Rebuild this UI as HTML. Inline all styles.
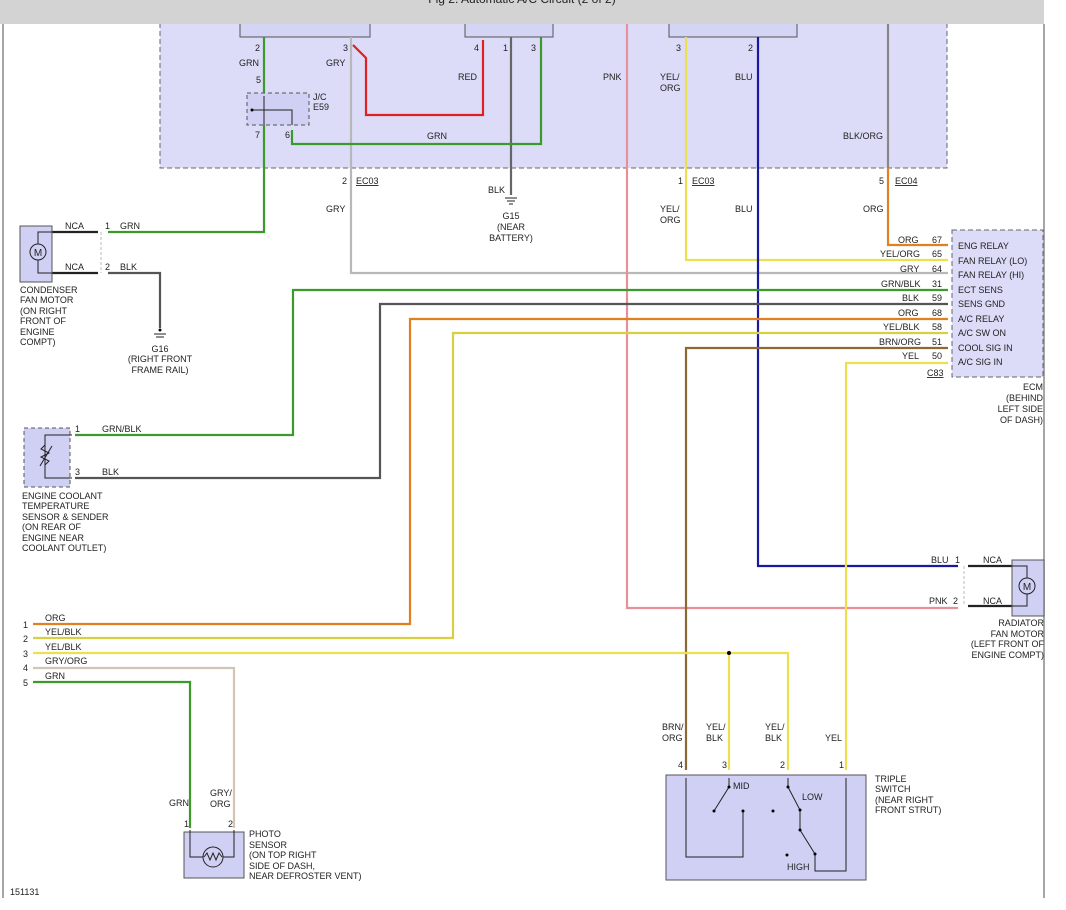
<!DOCTYPE html>
<html><head><meta charset="utf-8"><style>
html,body{margin:0;padding:0;background:#fff;}
svg{display:block;font-family:"Liberation Sans",Arial,sans-serif;font-size:9px;}
text{fill:#222;}
</style></head><body>
<svg width="1066" height="910" viewBox="0 0 1066 910" xmlns="http://www.w3.org/2000/svg">
<rect x="160" y="10" width="787" height="158" fill="#dcdcf8" stroke="#666" stroke-dasharray="5,3"/>
<rect x="240" y="10" width="130" height="27" fill="#d4d4f4" stroke="#555"/>
<rect x="465" y="10" width="88" height="27" fill="#d4d4f4" stroke="#555"/>
<rect x="669" y="10" width="128" height="27" fill="#d4d4f4" stroke="#555"/>
<rect x="0" y="0" width="1044" height="24" fill="#d3d3d3"/>
<text x="522" y="3" text-anchor="middle" font-size="12">Fig 2: Automatic A/C Circuit (2 of 2)</text>
<line x1="3" y1="24" x2="3" y2="898" stroke="#888" stroke-width="1.5"/>
<line x1="1044" y1="24" x2="1044" y2="898" stroke="#888" stroke-width="1.5"/>

<g fill="none" stroke-width="2.2">
<polyline points="264,37 264,93" stroke="#3a9a2a"/>
<polyline points="264,125 264,232 108,232" stroke="#3a9a2a"/>
<polyline points="351,37 351,273 948,273" stroke="#b8b8b8"/>
<polyline points="353,45 366,58 366,115 483,115 483,40" stroke="#e02020"/>
<polyline points="511,37 511,195" stroke="#666"/>
<polyline points="541,37 541,144 292,144 292,130" stroke="#3a9a2a"/>
<polyline points="627,24 627,608 958,608" stroke="#e8909a"/>
<polyline points="686,37 686,260 948,260" stroke="#ece050"/>
<polyline points="758,37 758,566 958,566" stroke="#1818a0"/>
<polyline points="888,24 888,168" stroke="#888"/>
<polyline points="888,168 888,245 948,245" stroke="#e08020"/>
<polyline points="948,290 293,290 293,435 75,435" stroke="#3a9a2a"/>
<polyline points="948,304 380,304 380,478 75,478" stroke="#555"/>
<polyline points="948,319 410,319 410,624 33,624" stroke="#e08020"/>
<polyline points="948,333 453,333 453,638 33,638" stroke="#d8d040"/>
<polyline points="948,348 686,348 686,770" stroke="#8a6a30"/>
<polyline points="948,363 846,363 846,770" stroke="#ece050"/>
<polyline points="33,653 788,653 788,770" stroke="#ece050"/>
<polyline points="729,653 729,770" stroke="#ece050"/>
<polyline points="33,668 234,668 234,828" stroke="#d4c4b4"/>
<polyline points="33,682 190,682 190,828" stroke="#3a9a2a"/>
<polyline points="52,232 98,232" stroke="#222"/>
<polyline points="52,273 98,273" stroke="#222"/>
<polyline points="108,273 160,273 160,328" stroke="#555"/>
<polyline points="968,566 1012,566" stroke="#222"/>
<polyline points="968,606 1012,606" stroke="#222"/>
</g>
<circle cx="729" cy="653" r="2" fill="#000"/>

<rect x="247" y="93" width="62" height="32" fill="#d0d0f4" stroke="#555" stroke-dasharray="4,3"/>
<polyline points="264,96 264,125" stroke="#222" fill="none"/>
<polyline points="252,110 292,110 292,125" stroke="#222" fill="none"/>
<circle cx="252" cy="110" r="1.5" fill="#000"/>
<text x="313" y="100">J/C</text><text x="313" y="110">E59</text>

<g font-size="9">
<text x="255" y="51">2</text><text x="343" y="51">3</text>
<text x="474" y="51">4</text><text x="503" y="51">1</text><text x="531" y="51">3</text>
<text x="676" y="51">3</text><text x="748" y="51">2</text>
<text x="239" y="66">GRN</text><text x="326" y="66">GRY</text>
<text x="458" y="80">RED</text><text x="603" y="80">PNK</text>
<text x="660" y="80">YEL/</text><text x="660" y="91">ORG</text>
<text x="735" y="80">BLU</text>
<text x="256" y="83">5</text><text x="255" y="138">7</text><text x="285" y="138">6</text>
<text x="427" y="139">GRN</text><text x="843" y="139">BLK/ORG</text>
<text x="342" y="184">2</text><text x="356" y="184" text-decoration="underline">EC03</text>
<text x="678" y="184">1</text><text x="692" y="184" text-decoration="underline">EC03</text>
<text x="879" y="184">5</text><text x="895" y="184" text-decoration="underline">EC04</text>
<text x="488" y="193">BLK</text>
<text x="326" y="212">GRY</text>
<text x="660" y="212">YEL/</text><text x="660" y="223">ORG</text>
<text x="735" y="212">BLU</text><text x="863" y="212">ORG</text>
</g>
<g stroke="#222"><line x1="505" y1="198" x2="517" y2="198"/><line x1="507" y1="201" x2="515" y2="201"/><line x1="509" y1="204" x2="513" y2="204"/></g>
<text x="511" y="219" text-anchor="middle">G15</text>
<text x="511" y="230" text-anchor="middle">(NEAR</text>
<text x="511" y="241" text-anchor="middle">BATTERY)</text>

<rect x="952" y="230" width="91" height="147" fill="#dcdcf8" stroke="#666" stroke-dasharray="5,3"/>
<g font-size="9">
<text x="898" y="243">ORG</text><text x="932" y="243">67</text><text x="958" y="249">ENG RELAY</text>
<text x="880" y="257">YEL/ORG</text><text x="932" y="257">65</text><text x="958" y="264">FAN RELAY (LO)</text>
<text x="900" y="272">GRY</text><text x="932" y="272">64</text><text x="958" y="278">FAN RELAY (HI)</text>
<text x="881" y="287">GRN/BLK</text><text x="932" y="287">31</text><text x="958" y="293">ECT SENS</text>
<text x="902" y="301">BLK</text><text x="932" y="301">59</text><text x="958" y="307">SENS GND</text>
<text x="898" y="316">ORG</text><text x="932" y="316">68</text><text x="958" y="322">A/C RELAY</text>
<text x="883" y="330">YEL/BLK</text><text x="932" y="330">58</text><text x="958" y="336">A/C SW ON</text>
<text x="879" y="345">BRN/ORG</text><text x="932" y="345">51</text><text x="958" y="351">COOL SIG IN</text>
<text x="902" y="359">YEL</text><text x="932" y="359">50</text><text x="958" y="365">A/C SIG IN</text>
<text x="927" y="376" text-decoration="underline">C83</text>
<text x="1043" y="390" text-anchor="end">ECM</text>
<text x="1043" y="401" text-anchor="end">(BEHIND</text>
<text x="1043" y="412" text-anchor="end">LEFT SIDE</text>
<text x="1043" y="423" text-anchor="end">OF DASH)</text>
</g>

<rect x="20" y="226" width="32" height="56" fill="#d0d0f4" stroke="#555"/>
<polyline points="52,232 38,232 38,273 52,273" stroke="#222" fill="none"/>
<circle cx="38" cy="252" r="8" fill="#d0d0f4" stroke="#222"/>
<text x="38" y="256" text-anchor="middle" font-size="10">M</text>
<line x1="101" y1="232" x2="101" y2="273" stroke="#bbb" stroke-dasharray="3,2"/>
<g font-size="9">
<text x="65" y="229">NCA</text><text x="105" y="229">1</text><text x="120" y="229">GRN</text>
<text x="65" y="270">NCA</text><text x="105" y="270">2</text><text x="120" y="270">BLK</text>
<text x="20" y="293">CONDENSER</text><text x="20" y="303">FAN MOTOR</text><text x="20" y="314">(ON RIGHT</text><text x="20" y="324">FRONT OF</text><text x="20" y="335">ENGINE</text><text x="20" y="345">COMPT)</text>
</g>
<g stroke="#222"><line x1="154" y1="334" x2="166" y2="334"/><line x1="156" y1="337" x2="164" y2="337"/></g>
<circle cx="160" cy="330" r="1.5" fill="#000"/>
<text x="160" y="352" text-anchor="middle">G16</text>
<text x="160" y="362" text-anchor="middle">(RIGHT FRONT</text>
<text x="160" y="373" text-anchor="middle">FRAME RAIL)</text>

<rect x="24" y="428" width="46" height="59" fill="#d0d0f4" stroke="#555" stroke-dasharray="4,3"/>
<polyline points="72,435 45,435 45,478 72,478" stroke="#222" fill="none"/>
<polyline points="45,445 41,449 49,453 41,457 49,461 45,465" stroke="#222" fill="none"/>
<line x1="40" y1="466" x2="52" y2="446" stroke="#222"/>
<g font-size="9">
<text x="75" y="432">1</text><text x="102" y="432">GRN/BLK</text>
<text x="75" y="475">3</text><text x="102" y="475">BLK</text>
<text x="22" y="499">ENGINE COOLANT</text><text x="22" y="509">TEMPERATURE</text><text x="22" y="520">SENSOR &amp; SENDER</text><text x="22" y="530">(ON REAR OF</text><text x="22" y="541">ENGINE NEAR</text><text x="22" y="551">COOLANT OUTLET)</text>
</g>

<rect x="1012" y="560" width="32" height="56" fill="#d0d0f4" stroke="#555"/>
<polyline points="1012,566 1027,566 1027,606 1012,606" stroke="#222" fill="none"/>
<circle cx="1027" cy="586" r="8" fill="#d0d0f4" stroke="#222"/>
<text x="1027" y="590" text-anchor="middle" font-size="10">M</text>
<line x1="964" y1="566" x2="964" y2="606" stroke="#bbb" stroke-dasharray="3,2"/>
<g font-size="9">
<text x="931" y="563">BLU</text><text x="955" y="563">1</text><text x="983" y="563">NCA</text>
<text x="929" y="604">PNK</text><text x="953" y="604">2</text><text x="983" y="604">NCA</text>
<text x="1044" y="626" text-anchor="end">RADIATOR</text><text x="1044" y="637" text-anchor="end">FAN MOTOR</text><text x="1044" y="647" text-anchor="end">(LEFT FRONT OF</text><text x="1044" y="658" text-anchor="end">ENGINE COMPT)</text>
</g>

<g font-size="9">
<text x="45" y="621">ORG</text><text x="23" y="628">1</text>
<text x="45" y="635">YEL/BLK</text><text x="23" y="642">2</text>
<text x="45" y="650">YEL/BLK</text><text x="23" y="657">3</text>
<text x="45" y="664">GRY/ORG</text><text x="23" y="671">4</text>
<text x="45" y="679">GRN</text><text x="23" y="686">5</text>
</g>

<rect x="184" y="832" width="60" height="46" fill="#d0d0f4" stroke="#555"/>
<polyline points="190,830 190,857 203,857" stroke="#222" fill="none"/>
<polyline points="234,830 234,857 223,857" stroke="#222" fill="none"/>
<circle cx="213" cy="857" r="10" fill="#d0d0f4" stroke="#222"/>
<polyline points="204,857 207,853 210,860 213,853 216,860 219,853 222,857" stroke="#222" fill="none"/>
<g font-size="9">
<text x="169" y="806">GRN</text><text x="210" y="796">GRY/</text><text x="210" y="807">ORG</text>
<text x="184" y="827">1</text><text x="228" y="827">2</text>
<text x="249" y="837">PHOTO</text><text x="249" y="848">SENSOR</text><text x="249" y="858">(ON TOP RIGHT</text><text x="249" y="869">SIDE OF DASH,</text><text x="249" y="879">NEAR DEFROSTER VENT)</text>
<text x="10" y="895">151131</text>
</g>

<rect x="666" y="775" width="200" height="105" fill="#d0d0f4" stroke="#555"/>
<g stroke="#222" fill="none">
<polyline points="686,778 686,857 743,857 743,811"/>
<polyline points="729,778 729,787 714,811"/>
<polyline points="788,778 788,787 800,810 800,830 815,854"/>
<polyline points="815,854 815,871 846,871 846,778"/>
</g>
<g fill="#000"><circle cx="729" cy="787" r="1.5"/><circle cx="714" cy="811" r="1.5"/><circle cx="743" cy="811" r="1.5"/><circle cx="773" cy="811" r="1.5"/><circle cx="788" cy="787" r="1.5"/><circle cx="800" cy="810" r="1.5"/><circle cx="800" cy="830" r="1.5"/><circle cx="815" cy="854" r="1.5"/><circle cx="787" cy="855" r="1.5"/></g>
<g font-size="9">
<text x="733" y="789">MID</text><text x="802" y="800">LOW</text><text x="787" y="870">HIGH</text>
<text x="662" y="730">BRN/</text><text x="662" y="741">ORG</text>
<text x="706" y="730">YEL/</text><text x="706" y="741">BLK</text>
<text x="765" y="730">YEL/</text><text x="765" y="741">BLK</text>
<text x="825" y="741">YEL</text>
<text x="678" y="768">4</text><text x="722" y="768">3</text><text x="780" y="768">2</text><text x="839" y="768">1</text>
<text x="875" y="782">TRIPLE</text><text x="875" y="792">SWITCH</text><text x="875" y="803">(NEAR RIGHT</text><text x="875" y="813">FRONT STRUT)</text>
</g>
</svg>
</body></html>
